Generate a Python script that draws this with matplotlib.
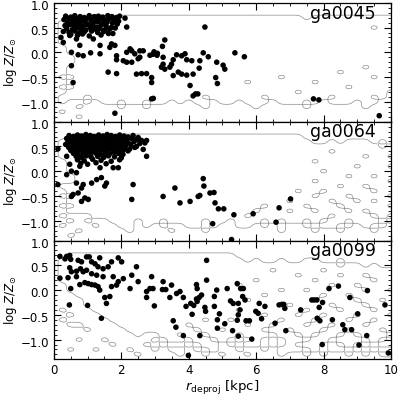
import numpy as np
import matplotlib
matplotlib.use("Agg")
import matplotlib.pyplot as plt
from matplotlib.ticker import MultipleLocator
from matplotlib.transforms import ScaledTranslation

# ---- dados ----
labels = ["ga0045", "ga0064", "ga0099"]

# ga0045: aglomerado interno + pontos esparsos
x1 = [0.35, 0.50, 0.62, 0.78, 0.90, 1.05, 1.20, 1.32, 1.45, 1.60, 1.72, 1.85, 1.95,
      0.30, 0.45, 0.58, 0.70, 0.83, 0.97, 1.10, 1.25, 1.38, 1.52, 1.66, 1.80, 1.92,
      0.40, 0.52, 0.66, 0.78, 0.92, 1.03, 1.18, 1.30, 1.45, 1.58, 1.74, 1.88,
      0.33, 0.47, 0.60, 0.73, 0.87, 1.00, 1.14, 1.27, 1.40, 1.55, 1.70,
      0.38, 0.55, 0.68, 0.80, 0.95, 1.08, 1.22, 1.36, 1.50, 1.65, 1.82,
      0.28, 0.45, 0.62, 0.76, 0.90, 1.12, 1.30, 1.48, 1.62,
      0.50, 0.70, 0.85, 1.05, 1.40, 1.75,
      2.11, 2.16, 0.21, 0.28, 0.47, 0.67, 0.77, 1.17, 1.37, 0.72, 1.09, 1.37, 0.52,
      1.66, 1.81, 1.86, 1.61, 1.86, 0.57, 1.81, 0.52, 0.87, 1.71, 2.26, 1.86,
      2.16, 2.31, 2.40, 2.55, 2.65, 2.06, 2.16, 2.31, 2.50, 2.55,
      2.45, 2.60, 2.75, 2.90, 2.90, 2.90,
      2.85, 2.94, 3.06, 2.97, 3.07, 3.22, 3.29, 3.24,
      3.64, 3.79, 3.89, 3.94, 4.09, 3.54, 3.49, 3.44, 3.24, 3.19, 3.29,
      4.43, 4.58, 4.33, 4.31, 3.69, 3.79, 3.54, 3.94, 4.13, 4.04, 4.20, 4.27, 4.13, 2.95,
      4.83, 5.02, 5.07, 5.37, 5.65, 4.80, 4.85, 4.48,
      7.70, 7.86, 9.65]
y1 = [0.73, 0.71, 0.74, 0.72, 0.70, 0.74, 0.72, 0.73, 0.71, 0.74, 0.72, 0.70, 0.73,
      0.66, 0.68, 0.64, 0.67, 0.65, 0.68, 0.66, 0.64, 0.67, 0.65, 0.68, 0.66, 0.63,
      0.60, 0.58, 0.61, 0.59, 0.62, 0.57, 0.60, 0.62, 0.58, 0.61, 0.59, 0.57,
      0.54, 0.56, 0.53, 0.55, 0.52, 0.56, 0.54, 0.51, 0.55, 0.53, 0.50,
      0.48, 0.46, 0.49, 0.47, 0.45, 0.50, 0.47, 0.48, 0.45, 0.47, 0.49,
      0.42, 0.40, 0.43, 0.39, 0.41, 0.43, 0.40, 0.42, 0.38,
      0.36, 0.34, 0.37, 0.33, 0.35, 0.38,
      0.69, 0.51, 0.30, 0.20, 0.34, 0.27, 0.14, 0.27, 0.14, -0.05, -0.01, -0.03, -0.27,
      0.10, 0.14, -0.07, -0.40, -0.43, -0.61, -1.23, 0.00, -0.07, 0.17, 0.07, -0.15,
      0.00, 0.03, -0.03, 0.03, 0.03, -0.17, -0.20, -0.20, -0.13, -0.10,
      -0.44, -0.43, -0.43, -0.51, -0.61, -0.94,
      -0.06, -0.04, -0.06, 0.01, -0.02, 0.12, 0.25, -0.10,
      -0.05, -0.07, -0.03, -0.15, -0.17, -0.15, -0.24, -0.30, -0.24, -0.30, -0.34,
      -0.01, -0.09, -0.17, -0.32, -0.40, -0.44, -0.47, -0.46, -0.44, -0.67, -0.84, -0.84, -0.88, -0.93,
      -0.20, -0.26, -0.34, -0.01, -0.09, -0.51, -0.63, 0.51,
      -0.94, -0.96, -1.28]

# ga0064
x2 = [0.45, 0.58, 0.70, 0.82, 0.95, 1.08, 1.20, 1.33, 1.46, 1.58, 1.70, 1.83, 1.95, 2.08, 2.20, 2.35, 2.50,
      0.38, 0.50, 0.63, 0.76, 0.88, 1.00, 1.13, 1.26, 1.38, 1.50, 1.63, 1.76, 1.88, 2.00, 2.15, 2.30, 2.45, 2.60,
      0.42, 0.55, 0.68, 0.80, 0.93, 1.06, 1.18, 1.30, 1.43, 1.56, 1.68, 1.80, 1.93, 2.05, 2.20, 2.38, 2.55,
      0.35, 0.48, 0.60, 0.73, 0.86, 0.98, 1.10, 1.23, 1.36, 1.48, 1.60, 1.73, 1.86, 1.98, 2.12, 2.28, 2.45,
      0.44, 0.56, 0.69, 0.82, 0.94, 1.07, 1.20, 1.32, 1.45, 1.58, 1.70, 1.83, 1.96, 2.10, 2.25, 2.40,
      0.50, 0.63, 0.76, 0.90, 1.02, 1.15, 1.28, 1.40, 1.53, 1.66, 1.80, 1.93, 2.06, 2.20,
      0.58, 0.72, 0.86, 1.00, 1.12, 1.25, 1.38, 1.52, 1.65, 1.78, 1.92, 2.05,
      0.66, 0.82, 0.96, 1.10, 1.30, 1.48, 1.62, 1.80, 2.00,
      0.70, 0.90, 1.15, 1.40, 1.70, 1.95,
      0.80, 1.00, 1.25, 1.55,
      0.12, 0.38, 0.47, 0.52, 0.67, 0.77, 0.38, 0.67, 0.87, 1.12, 1.27, 0.12, 0.57, 0.72,
      0.82, 0.52, 0.82, 0.92, 1.02, 1.41, 1.56, 1.51, 1.76, 1.91, 1.37, 2.35, 2.31, 2.75,
      2.65, 2.70, 2.75, 3.24, 3.59, 3.74, 4.04, 4.28, 4.43, 4.45, 4.33, 4.63, 4.75, 4.78,
      4.88, 5.04, 5.34, 5.91, 6.68, 7.02, 6.59, 4.71, 5.27]
y2 = [0.72, 0.70, 0.73, 0.71, 0.74, 0.72, 0.70, 0.73, 0.71, 0.74, 0.72, 0.70, 0.73, 0.71, 0.69, 0.72, 0.68,
      0.66, 0.64, 0.67, 0.65, 0.68, 0.66, 0.64, 0.67, 0.65, 0.68, 0.66, 0.64, 0.67, 0.65, 0.63, 0.66, 0.64, 0.62,
      0.60, 0.58, 0.61, 0.59, 0.62, 0.60, 0.58, 0.61, 0.59, 0.62, 0.60, 0.58, 0.61, 0.59, 0.57, 0.60, 0.56,
      0.54, 0.52, 0.55, 0.53, 0.56, 0.54, 0.52, 0.55, 0.53, 0.56, 0.54, 0.52, 0.55, 0.53, 0.51, 0.54, 0.50,
      0.48, 0.46, 0.49, 0.47, 0.50, 0.48, 0.46, 0.49, 0.47, 0.50, 0.48, 0.46, 0.49, 0.47, 0.45, 0.48,
      0.42, 0.40, 0.43, 0.41, 0.44, 0.42, 0.40, 0.43, 0.41, 0.44, 0.42, 0.40, 0.43, 0.41,
      0.36, 0.34, 0.37, 0.35, 0.38, 0.36, 0.34, 0.37, 0.35, 0.38, 0.36, 0.34,
      0.30, 0.28, 0.31, 0.29, 0.30, 0.28, 0.31, 0.29, 0.27,
      0.23, 0.21, 0.24, 0.22, 0.20, 0.23,
      0.16, 0.14, 0.17, 0.15,
      0.45, 0.30, 0.14, 0.00, -0.03, 0.10, -0.07, -0.24, -0.27, -0.24, -0.17, -0.27, -0.47, -0.44,
      -0.34, -0.51, -0.61, -0.54, -0.57, -0.13, -0.24, -0.30, 0.07, 0.07, 0.07, -0.27, -0.57, 0.30,
      0.44, 0.57, 0.62, -0.51, -0.34, -0.64, -0.61, -0.51, -0.15, -0.30, -0.49, -0.44, -0.43, -0.64,
      -0.76, -0.76, -0.88, -0.86, -0.74, -0.56, -1.03, -1.06, -1.38]

# ga0099
x3 = [0.18, 0.33, 0.47, 0.50, 0.72, 0.82, 0.97, 1.05, 1.12, 1.22, 1.36, 1.31, 1.46, 1.61, 1.71,
      1.91, 2.01, 2.45, 0.47, 0.52, 0.67, 0.79, 0.87, 0.97, 1.12, 1.27, 1.46, 0.42, 0.67, 1.76,
      1.91, 2.06, 2.31, 2.50, 2.26, 1.71, 1.86, 0.77, 0.92, 1.02, 1.12, 1.22, 1.31, 1.36, 0.50,
      1.51, 1.66, 1.56, 1.00, 1.41, 0.46, 2.85, 2.75, 2.90, 2.75, 2.94, 2.98, 3.99, 0.38, 0.18,
      4.53, 3.24, 3.22, 3.32, 3.49, 3.64, 3.74, 3.44, 3.84, 3.92, 4.06, 4.15, 4.23, 4.25, 4.31,
      4.38, 4.25, 4.23, 4.53, 4.10, 4.48, 4.50, 4.76, 4.76, 4.83, 4.91, 3.54, 3.62, 3.84, 4.33,
      4.85, 4.85, 5.07, 5.14, 5.24, 5.32, 5.44, 5.54, 5.62, 5.47, 5.60, 5.67, 5.52, 5.47, 5.44,
      5.30, 5.47, 5.70, 5.80, 5.87, 6.09, 5.99, 6.06, 6.16, 6.26, 6.56, 6.68,
      6.76, 6.82, 6.85, 6.88, 7.32, 7.65, 7.72, 7.80, 7.97, 7.87, 7.81, 7.89, 7.96, 8.16, 8.44,
      8.78, 8.26, 8.57, 8.63, 8.83, 9.01, 9.30, 9.28, 9.05, 9.82, 9.92]
y3 = [0.68, 0.63, 0.70, 0.62, 0.60, 0.57, 0.67, 0.67, 0.57, 0.53, 0.65, 0.47, 0.43, 0.47, 0.57,
      0.65, 0.57, 0.47, 0.45, 0.37, 0.38, 0.43, 0.37, 0.40, 0.33, 0.30, 0.27, 0.25, 0.27, 0.27,
      0.17, 0.23, 0.30, 0.17, 0.03, 0.07, 0.10, 0.11, 0.15, 0.13, 0.11, 0.10, 0.07, 0.00, 0.03,
      -0.15, -0.13, -0.27, -0.31, -0.57, -0.30, 0.03, -0.15, 0.27, -0.03, 0.03, -0.32, -1.32, 0.68, 0.24,
      0.60, 0.17, 0.01, 0.01, 0.10, -0.07, -0.03, -0.15, -0.15, -0.33, -0.27, -0.31, -0.18, -0.23, -0.15,
      -0.10, 0.03, 0.11, 0.20, -0.49, -0.35, -0.43, -0.13, -0.33, 0.00, -0.48, -0.62, -0.75, -0.92, -0.92,
      -0.60, -0.77, -0.68, 0.03, -0.22, -0.27, 0.13, 0.03, 0.03, -0.27, -0.13, -0.20, -0.40, -0.50, -0.61,
      -0.82, -0.93, -0.62, -0.62, -0.99, -0.27, -0.43, -0.47, -0.58, -0.33, -0.67, -0.30,
      -0.29, -0.29, -0.37, -0.82, -0.40, -0.20, -0.20, -0.20, -0.25, -0.35, -0.57, -0.62, -1.10, 0.03, 0.08,
      -0.15, -0.60, -0.70, -0.80, -0.80, -0.48, -0.01, -0.92, -1.11, -0.30, -1.27]

# mapas (0/1) da regiao do gas, lidos dos contornos; colunas r = 0..10 passo 0.25,
# linhas log Z = 1.0 .. -1.4 passo 0.1
mapa1 = ["0000000000 0000000000 0000000000 0000000000 0",
         "0000000000 0000000000 0000000000 0000000000 0",
         "0000000000 0000000000 0000000000 0000000000 0",
         "0011111111 1111111111 1111111111 0111111111 1",
         "0111111111 1111111111 1111111111 1111111111 1",
         "0111111111 1111111111 1111111111 1111111101 1",
         "0111111111 1111111111 1111111111 1111111111 1",
         "0111111111 1111111111 1111111111 1111111111 1",
         "0111111111 1111111111 1111111111 1111111111 1",
         "0011111111 1111111111 1111111111 1111111111 1",
         "0011111111 1111111111 1111111111 1111111111 1",
         "0001111111 1111111111 1111111111 1111111111 1",
         "0001111111 1111111111 1111111111 1111111111 1",
         "0011111111 1111111111 1111111111 1111111011 1",
         "0011111111 1111111111 1111111111 1111011111 1",
         "0101111111 1111111111 1111111011 1111111101 1",
         "0011111111 1111111111 1110111111 1011111111 1",
         "0101111111 1111111111 1111111111 1111101111 1",
         "0011111111 1111111111 1111111110 1111111111 0",
         "0111011111 1111111101 1111101111 1110111101 0",
         "0100101101 1011010110 1101110111 0101110110 0",
         "0001000010 0100000010 0000100000 1000000100 0",
         "0100000000 0000000000 0000000000 0000000000 0",
         "0001000000 0000000000 0000000000 0000000000 0",
         "0000000000 0000000000 0000000000 0000000000 0"]
mapa2 = ["0000000000 0000000000 0000000000 0000000000 0",
         "0000000000 0000000000 0000000000 0000000000 0",
         "0000000000 0000000000 0000000000 0000000000 0",
         "0011111111 1111111111 1111111111 0000000000 0",
         "0111111111 1111111111 1111111111 1001011101 0",
         "0111111111 1111111111 1111111111 1111111110 1",
         "0111111111 1111111111 1111111111 1110111111 1",
         "0111111111 1111111111 1111111111 1111111011 0",
         "0011111111 1111111111 1111111111 1011111111 1",
         "0011111111 1111111111 1111111111 1111110111 0",
         "0011111111 1111111111 1111111111 1101111111 1",
         "0001111111 1111111111 1111111111 1111101101 1",
         "0001111111 1111111111 1111111111 1011111111 0",
         "0111111111 1111111111 1111111111 1111011011 1",
         "0011111111 1111111111 1111111110 1101111101 1",
         "0101111111 1111111111 1111111111 1011101111 0",
         "0011111111 1111111111 1111111101 1110110101 1",
         "0101111111 1111111111 1111101111 0111011111 0",
         "0011111111 1111111111 1111011101 1011101011 1",
         "0100011111 1111111111 1110111111 1110111101 0",
         "0010100111 0110111101 1011101011 0101101110 1",
         "0100010011 0101001101 0011010100 1011010101 0",
         "0001000001 0000100010 0000000100 0100100010 0",
         "0010000000 0000000000 0000000000 0000000000 0",
         "0000000000 0000000000 0000000000 0000000000 0"]
mapa3 = ["0000000000 0000000000 0000000000 0000000000 0",
         "0000000000 0000000000 0000000000 0000000000 0",
         "0000000000 0000000000 0000000000 0000000000 0",
         "0011111111 1111111111 1100000000 0000000000 0",
         "0111111111 1111111111 1110100100 1100100000 0",
         "0111111111 1111111111 1111111111 1111011010 0",
         "0111111111 1111111111 1111110111 1101111111 1",
         "0111111111 1111111111 1111111110 1111011011 1",
         "0111111111 1111111111 1111011111 1011111101 1",
         "0011111111 1111111111 1101111111 1110110111 1",
         "0011111111 1111111111 1111111011 0111111011 0",
         "0001111111 1111111111 1111101111 1101101111 1",
         "0000111111 1111111111 1110111111 1011110110 1",
         "0000111111 1111111111 1111111101 1110111011 1",
         "0100011111 1111111111 1101111111 0111011101 1",
         "0010001111 1111111111 1111101110 1101110111 0",
         "0100000111 1111111101 1011111011 1011101101 1",
         "0011000011 1111110111 1110110111 0110111011 1",
         "0000100001 1111111011 0111101101 1101101110 1",
         "0000000000 1001101101 1101110110 1011010111 0",
         "0001001000 0010110110 1010101011 0110111010 1",
         "0000000100 0101001011 0101101010 1101010101 1",
         "0010010001 0010110101 0010010111 0101101010 0",
         "0000000000 1000010010 1001000100 1010010101 1",
         "0000000000 0000000000 0000000000 0000000000 0"]

xs = [x1, x2, x3]
ys = [y1, y2, y3]
mapas = [mapa1, mapa2, mapa3]

r_grade = np.linspace(0, 10, 41)
z_grade = np.linspace(1.0, -1.4, 25)
r_fino = np.linspace(0, 10, 161)
z_fino = np.linspace(1.0, -1.4, 97)


def ler_mapa(linhas):
    m = np.array([[int(c) for c in l.replace(" ", "")] for l in linhas], dtype=float)
    # refina por interpolacao bilinear e suaviza de leve
    m = np.array([np.interp(r_fino, r_grade, lin) for lin in m])
    m = np.array([np.interp(-z_fino, -z_grade, col) for col in m.T]).T
    ker = np.array([1, 4, 6, 4, 1], dtype=float)
    ker /= ker.sum()
    p = np.pad(m, ((2, 2), (0, 0)), mode="edge")
    m = np.apply_along_axis(lambda v: np.convolve(v, ker, mode="valid"), 0, p)
    p = np.pad(m, ((0, 0), (2, 2)), mode="edge")
    m = np.apply_along_axis(lambda v: np.convolve(v, ker, mode="valid"), 1, p)
    return m


fig, axes = plt.subplots(3, 1, figsize=(3.99, 3.98), dpi=100, sharex=True)
fig.subplots_adjust(left=0.135, right=0.98, top=0.993, bottom=0.097, hspace=0)

desloca = ScaledTranslation(0, -1.5 / 72, fig.dpi_scale_trans)

for ax, lab, xx, yy, mp in zip(axes, labels, xs, ys, mapas):
    ax.contour(r_fino, z_fino, ler_mapa(mp), levels=[0.5], colors="0.55", linewidths=0.5, zorder=1)
    ax.scatter(xx, yy, s=16, c="black", edgecolors="none", zorder=3)
    ax.set_xlim(0, 10)
    ax.set_ylim(-1.4, 1.0)
    ax.yaxis.set_major_locator(MultipleLocator(0.5))
    ax.yaxis.set_minor_locator(MultipleLocator(0.1))
    ax.xaxis.set_major_locator(MultipleLocator(2))
    ax.xaxis.set_minor_locator(MultipleLocator(0.5))
    ax.tick_params(which="both", direction="in", top=True, right=True, labelsize=8.5)
    ax.tick_params(which="major", length=5, width=0.8)
    ax.tick_params(which="minor", length=2.5, width=0.6)
    for t in ax.get_yticklabels():
        t.set_transform(t.get_transform() + desloca)
    ax.set_ylabel(r"log $Z/Z_{\odot}$", fontsize=8.5, labelpad=1)
    ax.text(0.955, 0.985, lab, transform=ax.transAxes, ha="right", va="top", fontsize=12.5)
    for sp in ax.spines.values():
        sp.set_linewidth(0.9)

axes[-1].set_xlabel(r"$r_{\rm deproj}$ [kpc]", fontsize=9.5, labelpad=1)

plt.savefig("out.png", dpi=100)
